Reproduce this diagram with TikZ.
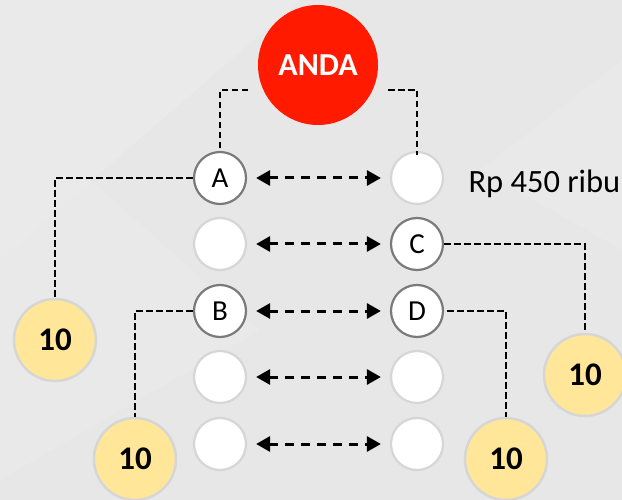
\documentclass[tikz,border=0pt]{standalone}
\usepackage{fontspec}
\setmainfont{Carlito}
\usetikzlibrary{arrows.meta}
\definecolor{bgc}{HTML}{E7E7E7}
\definecolor{bgl}{HTML}{ECECEC}
\definecolor{redc}{HTML}{FF1A00}
\definecolor{yelc}{HTML}{FFE699}
\definecolor{ringc}{HTML}{7A7A7A}
\definecolor{lightring}{HTML}{D6D6D6}
\tikzset{
  person/.style={circle, draw=ringc, line width=2.2pt, fill=white, minimum size=52pt, inner sep=0pt, font=\fontsize{29}{31}\selectfont},
  empty/.style={circle, draw=lightring, line width=2.2pt, fill=white, minimum size=52pt, inner sep=0pt},
  coin/.style={circle, draw=lightring, line width=2.5pt, fill=yelc, minimum size=82pt, inner sep=0pt, font=\fontsize{33}{35}\selectfont\bfseries},
  me/.style={circle, fill=redc, minimum size=120pt, inner sep=0pt, text=white, font=\fontsize{32}{34}\selectfont\bfseries},
  conn/.style={draw=black, line width=2.6pt, dash pattern=on 6.5pt off 3.5pt},
  arr/.style={draw=black, line width=3pt, dash pattern=on 9pt off 7pt, {Triangle[length=14pt,width=15pt]}-{Triangle[length=14pt,width=15pt]}, shorten <=9pt, shorten >=9pt}
}
\begin{document}
\begin{tikzpicture}[x=1pt,y=-1pt]
\useasboundingbox (0,0) rectangle (622,500);
\fill[bgc] (0,0) rectangle (622,500);
\fill[bgl,opacity=0.6] (0,0) -- (300,0) -- (0,260) -- cycle;
\fill[bgl,opacity=0.4] (0,100) -- (260,330) -- (0,480) -- cycle;
\fill[bgl,opacity=0.4] (622,250) -- (480,170) -- (622,60) -- cycle;

\node[me] (anda) at (318,65) {ANDA};

\node[person] (L1) at (220,178) {A};
\node[empty]  (L2) at (220,244) {};
\node[person] (L3) at (220,311) {B};
\node[empty]  (L4) at (220,377) {};
\node[empty]  (L5) at (220,444) {};

\node[empty]  (R1) at (417,178) {};
\node[person] (R2) at (417,244) {C};
\node[person] (R3) at (417,311) {D};
\node[empty]  (R4) at (417,377) {};
\node[empty]  (R5) at (417,444) {};

\node[coin] (Y1) at (55,340) {10};
\node[coin] (Y2) at (135,459) {10};
\node[coin] (Y3) at (585,375) {10};
\node[coin] (Y4) at (506,459) {10};

\node[anchor=base west, font=\fontsize{32.5}{35}\selectfont] (price) at (465,193) {Rp 450 ribu};

\coordinate (al) at (248,90);
\coordinate (ar) at (388,90);
\draw[conn] (al) -| (L1.north);
\draw[conn] (ar) -| ([yshift=-4pt]R1.north);

\foreach \i in {1,...,5} {
  \draw[arr] (L\i) -- (R\i);
}

\draw[conn] (L1.west) -| (Y1.north);
\draw[conn] (L3.west) -| (Y2.north);
\draw[conn] (R2.east) -| (Y3.north);
\draw[conn] ([xshift=3pt]R3.east) -| (Y4.north);
\end{tikzpicture}
\end{document}
